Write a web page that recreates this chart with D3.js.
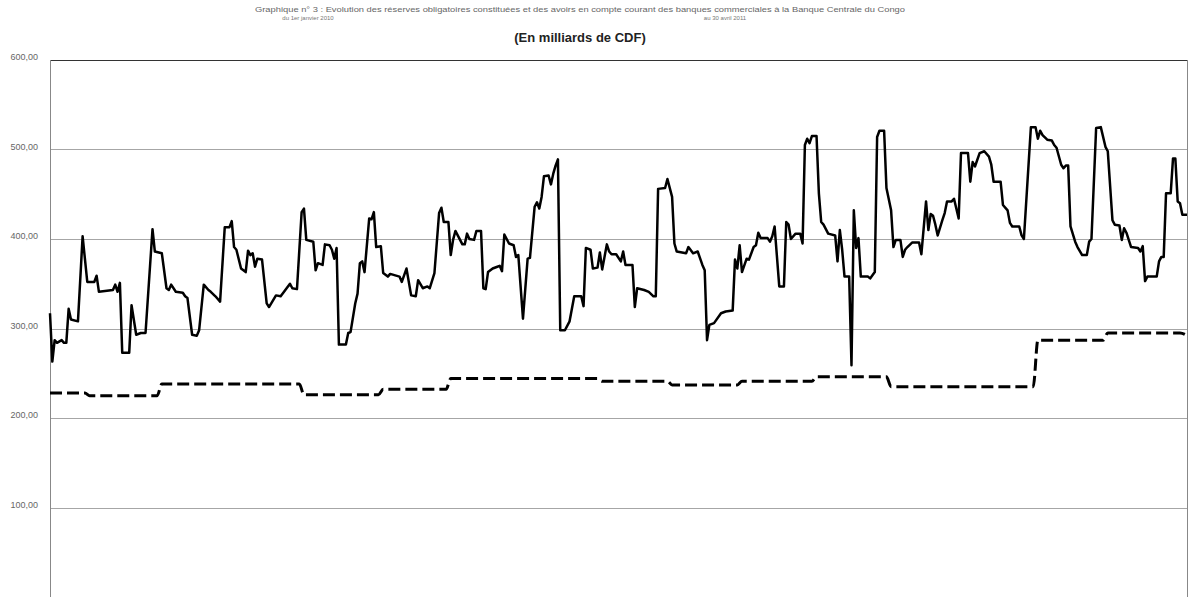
<!DOCTYPE html>
<html><head><meta charset="utf-8">
<script src="https://cdn.jsdelivr.net/npm/d3@7"></script>
<style>body{margin:0;background:#fff;} svg{display:block;}</style>
</head><body>
<svg id="chart" width="1189" height="597"></svg>
<script>
// Avoirs en compte courant (jours depuis le début de la période, milliards de CDF)
const avoirDays = [0,1,2,3,5,6,7,8,9,12,14,16,19,20,21,27,28,29,30,31,34,35,37,39,41,44,45,48,50,51,52,54,57,58,59,61,63,64,66,68,69,71,73,75,77,78,79,80,82,84,85,86,87,88,89,91,93,94,97,99,101,103,104,106,108,109,110,113,114,115,117,118,120,121,122,123,124,127,128,129,131,132,133,134,135,137,138,139,140,142,143,145,146,150,151,153,155,157,158,160,162,163,165,167,168,169,171,172,173,174,176,177,178,179,180,182,183,185,186,187,188,190,192,193,194,195,197,199,200,201,203,205,206,208,209,210,211,212,214,215,216,217,218,219,221,223,225,228,229,230,232,233,235,236,237,239,240,241,243,245,246,247,250,251,252,255,257,259,260,261,264,265,267,268,269,273,274,276,278,280,281,282,283,285,288,290,293,294,295,296,297,299,300,302,303,304,305,308,309,310,311,313,315,316,317,318,320,322,323,324,325,326,327,329,330,331,332,334,337,338,339,340,341,343,344,345,346,347,348,351,352,354,355,356,358,359,361,362,363,365,366,367,368,370,373,374,376,377,378,379,380,381,383,384,385,387,388,390,391,394,395,396,397,399,401,403,404,405,408,409,411,412,413,416,417,418,421,423,424,425,426,428,430,431,432,434,435,436,437,438,440,441,443,445,446,447,449,451,453,454,456,457,459,460,461,462,464,467,468,469,470,471,475,476,477,478,479,481,482,483,484,485,486,488];
const avoirValues = [317,263,287,284,287,284,284,322,310,308,403,352,352,359,341,343,349,341,351,273,273,326,293,295,295,411,386,384,345,343,349,341,340,336,334,293,292,298,349,343,341,336,330,413,413,420,391,388,367,363,387,382,384,369,378,377,328,324,337,336,343,350,345,344,430,434,399,397,365,373,371,394,393,388,378,390,282,282,295,296,328,339,373,375,363,423,422,430,391,392,362,358,361,358,352,367,337,336,354,345,347,345,362,429,435,419,419,382,399,409,399,394,394,406,400,399,409,409,345,344,363,367,369,370,364,405,395,393,380,382,311,378,379,436,441,434,447,470,471,461,473,482,489,298,298,308,336,336,325,390,388,367,368,385,366,394,386,383,383,375,386,371,371,324,345,343,341,336,336,456,457,467,447,395,386,384,391,384,386,371,365,287,304,306,317,319,320,377,367,393,363,378,377,391,393,407,401,401,397,403,414,347,347,419,416,400,406,406,395,505,512,507,515,515,451,419,416,406,404,375,410,388,358,358,259,432,390,401,358,358,356,363,514,521,521,457,432,391,399,399,380,388,391,396,396,383,442,410,428,426,416,404,421,429,442,442,445,423,496,496,464,486,481,496,498,492,483,464,464,438,432,418,414,414,404,400,525,525,512,521,516,511,510,505,502,483,479,482,482,414,397,391,382,382,397,400,524,525,503,498,421,416,415,399,412,407,391,390,386,392,353,358,358,375,380,380,451,451,490,490,442,440,427,427];
// Réserve obligatoire
const reserveDays = [0,15,17,46,48,107,109,141,143,170,172,235,237,265,267,295,297,327,329,359,361,422,424,452,454,485,488];
const reserveValues = [228,228,225,225,238,238,226,226,232,232,244,244,241,241,237,237,241,241,246,246,235,235,287,287,295,295,292];
// Axe des ordonnées
const yTicks = [100,200,300,400,500,600];
const yTickLabels = ["100,00","200,00","300,00","400,00","500,00","600,00"];
const titleLine1 = "Graphique n° 3 : Evolution des réserves obligatoires constituées et des avoirs en compte courant des banques commerciales à la Banque Centrale du Congo";
const titleLine2a = "du 1er janvier 2010";
const titleLine2b = "au 30 avril 2011";
const subtitle = "(En milliards de CDF)";

(function () {
const svg = d3.select("#chart");
const mLeft = 50, mRight = 1187, mTop = 60, mBottom = 597;
const x = d3.scaleLinear().domain([0, 488]).range([mLeft, mRight]);
const y = d3.scaleLinear().domain([0, 600]).range([mBottom, mTop]);

// gridlines
svg.append("g").selectAll("line").data(yTicks.filter(t => t < 600)).join("line")
  .attr("x1", mLeft).attr("x2", mRight)
  .attr("y1", d => Math.round(y(d)) + 0.5).attr("y2", d => Math.round(y(d)) + 0.5)
  .attr("stroke", "#a6a6a6").attr("stroke-width", 1);
// top border
svg.append("line").attr("x1", mLeft).attr("x2", mRight)
  .attr("y1", Math.round(y(600)) + 0.5).attr("y2", Math.round(y(600)) + 0.5)
  .attr("stroke", "#333").attr("stroke-width", 1);
// left & right border
svg.append("line").attr("x1", mLeft + 0.5).attr("x2", mLeft + 0.5).attr("y1", mTop).attr("y2", mBottom)
  .attr("stroke", "#888").attr("stroke-width", 1);
svg.append("line").attr("x1", mRight + 0.5).attr("x2", mRight + 0.5).attr("y1", mTop).attr("y2", mBottom)
  .attr("stroke", "#888").attr("stroke-width", 1);

// y labels
svg.append("g").selectAll("text").data(yTicks).join("text")
  .attr("x", 38).attr("y", d => y(d) - 2)
  .attr("text-anchor", "end").attr("dominant-baseline", "middle")
  .attr("font-family", "Liberation Sans, Arial, sans-serif").attr("font-size", 9)
  .attr("fill", "#666")
  .text((d, i) => yTickLabels[i]);

// titles
svg.append("text").attr("x", 580).attr("y", 12).attr("text-anchor", "middle")
  .attr("font-family", "Liberation Sans, Arial, sans-serif").attr("font-size", 6.5)
  .attr("fill", "#666").attr("textLength", 650).attr("lengthAdjust", "spacingAndGlyphs")
  .text(titleLine1);
svg.append("text").attr("x", 308).attr("y", 20).attr("text-anchor", "middle")
  .attr("font-family", "Liberation Sans, Arial, sans-serif").attr("font-size", 6)
  .attr("fill", "#777").text(titleLine2a);
svg.append("text").attr("x", 725).attr("y", 20).attr("text-anchor", "middle")
  .attr("font-family", "Liberation Sans, Arial, sans-serif").attr("font-size", 6)
  .attr("fill", "#777").text(titleLine2b);
svg.append("text").attr("x", 580).attr("y", 42).attr("text-anchor", "middle")
  .attr("font-family", "Liberation Sans, Arial, sans-serif").attr("font-size", 13)
  .attr("font-weight", "bold").attr("fill", "#222").text(subtitle);

// lines
const avoirData = avoirDays.map((d, i) => [d, avoirValues[i]]);
const reserveData = reserveDays.map((d, i) => [d, reserveValues[i]]);
const line = d3.line().x(d => x(d[0])).y(d => y(d[1]));
const line2 = d3.line().x(d => x(d[0])).y(d => y(d[1])).curve(d3.curveMonotoneX);

svg.append("path").datum(reserveData).attr("d", line2)
  .attr("fill", "none").attr("stroke", "#000").attr("stroke-width", 3)
  .attr("stroke-dasharray", "12,5");
svg.append("path").datum(avoirData).attr("d", line)
  .attr("fill", "none").attr("stroke", "#000").attr("stroke-width", 2.5)
  .attr("stroke-linejoin", "round");
})();
</script>
</body></html>
